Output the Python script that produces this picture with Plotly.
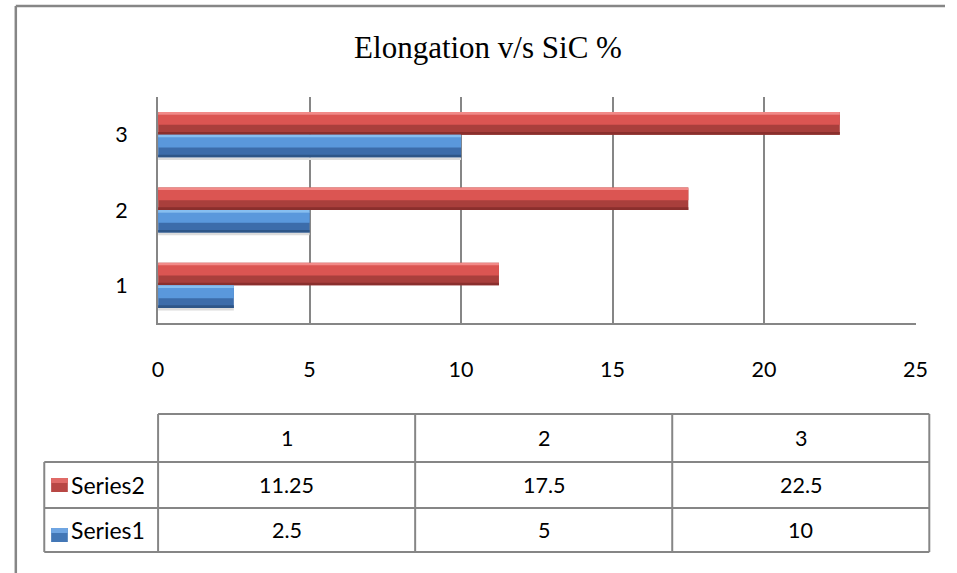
import plotly.graph_objects as go

# ---- data ----
categories = [1, 2, 3]
series_names = ["Series2", "Series1"]
series2 = [11.25, 17.5, 22.5]
series1 = [2.5, 5, 10]
x_ticks = [0, 5, 10, 15, 20, 25]
title_text = "Elongation v/s SiC %"

W, H = 957, 573
def px(x): return x / W
def py(y): return 1 - y / H

GRID = "#868686"
TICKFONT = dict(family="Lato", size=21.5, color="#000000")

fig = go.Figure()

def add_beveled(vals, offset, colors, shadow=False):
    dark, bright, light, edge = colors
    if shadow:
        fig.add_trace(go.Bar(y=categories, x=vals, orientation="h", width=0.035, offset=offset - 0.035,
                             marker=dict(color="#DCDCDC", line=dict(width=0)), showlegend=False, hoverinfo="skip"))
    fig.add_trace(go.Bar(y=categories, x=vals, orientation="h", width=0.3, offset=offset,
                         marker=dict(color=dark, line=dict(width=0)), showlegend=False, hoverinfo="skip"))
    fig.add_trace(go.Bar(y=categories, x=vals, orientation="h", width=0.035, offset=offset,
                         marker=dict(color=edge, line=dict(width=0)), showlegend=False, hoverinfo="skip"))
    fig.add_trace(go.Bar(y=categories, x=vals, orientation="h", width=0.14, offset=offset + 0.13,
                         marker=dict(color=bright, line=dict(width=0)), showlegend=False, hoverinfo="skip"))
    fig.add_trace(go.Bar(y=categories, x=vals, orientation="h", width=0.035, offset=offset + 0.265,
                         marker=dict(color=light, line=dict(width=0)), showlegend=False, hoverinfo="skip"))

add_beveled(series2, 0.0, ("#A93F3C", "#DB5552", "#F28A88", "#8A2F2D"))
add_beveled(series1, -0.3, ("#3C6CAA", "#5A98DC", "#86BEF0", "#2E5688"), shadow=True)

fig.update_layout(
    width=W, height=H,
    margin=dict(l=0, r=0, t=0, b=0),
    paper_bgcolor="white", plot_bgcolor="white",
    barmode="overlay",
    showlegend=False,
    title=dict(text=title_text, x=px(488), xanchor="center", y=py(47), yanchor="middle",
               font=dict(family="Liberation Serif", size=31, color="#000000")),
    xaxis=dict(domain=[px(155), px(927)], range=[0, 25], tickvals=x_ticks,
               ticktext=[str(t) for t in x_ticks],
               showgrid=True, gridcolor=GRID, gridwidth=1.5,
               showline=True, linecolor=GRID, linewidth=2,
               zeroline=False, ticks="", tickfont=TICKFONT, ticklabelstandoff=26),
    yaxis=dict(domain=[py(323), py(97)], range=[0.5, 3.5], tickvals=categories,
               ticktext=[str(c) for c in categories],
               showgrid=False, showline=True, linecolor=GRID, linewidth=2,
               zeroline=False, ticks="", tickfont=TICKFONT, ticklabelstandoff=24),
)

shapes = []
def line(x0, y0, x1, y1, w=2):
    shapes.append(dict(type="line", xref="paper", yref="paper",
                       x0=px(x0), y0=py(y0), x1=px(x1), y1=py(y1),
                       line=dict(color=GRID, width=w)))

line(10, H, 10, 6, 2.5)
line(10, 6, W, 6, 2.5)

col_edges = [155, 417, 679, 941]
row_edges = [414, 462, 508, 552]
label_left = 39
line(col_edges[0], row_edges[0], col_edges[-1], row_edges[0])
for ry in row_edges[1:]:
    line(label_left, ry, col_edges[-1], ry)
line(label_left, row_edges[1], label_left, row_edges[-1])
for cx in col_edges:
    line(cx, row_edges[0], cx, row_edges[-1])

key_colors = [("#B84744", "#E06A67"), ("#4377B6", "#6FA5E2")]
key_rows = [(478, 492), (528, 542)]
for (c, lc), (y0, y1) in zip(key_colors, key_rows):
    shapes.append(dict(type="rect", xref="paper", yref="paper",
                       x0=px(46), x1=px(63), y0=py(y1), y1=py(y0),
                       fillcolor=c, line=dict(width=0)))
    shapes.append(dict(type="rect", xref="paper", yref="paper",
                       x0=px(46), x1=px(63), y0=py(y0 + 5), y1=py(y0),
                       fillcolor=lc, line=dict(width=0)))

annotations = []
def text(x, y, s, anchor="center", size=21.5):
    annotations.append(dict(x=px(x), y=py(y), xref="paper", yref="paper", text=s,
                            showarrow=False, xanchor=anchor, yanchor="middle",
                            font=dict(family="Lato", size=size, color="#000000")))

col_centers = [(col_edges[i] + col_edges[i + 1]) / 2 for i in range(3)]
row_centers = [(row_edges[i] + row_edges[i + 1]) / 2 for i in range(3)]
for cx, c in zip(col_centers, categories):
    text(cx, row_centers[0], str(c))
for cx, v in zip(col_centers, series2):
    text(cx, row_centers[1], f"{v:g}")
for cx, v in zip(col_centers, series1):
    text(cx, row_centers[2], f"{v:g}")
text(64, row_centers[1], series_names[0], anchor="left", size=23)
text(64, row_centers[2], series_names[1], anchor="left", size=23)

fig.update_layout(shapes=shapes, annotations=annotations)
fig.write_html("out.html")
